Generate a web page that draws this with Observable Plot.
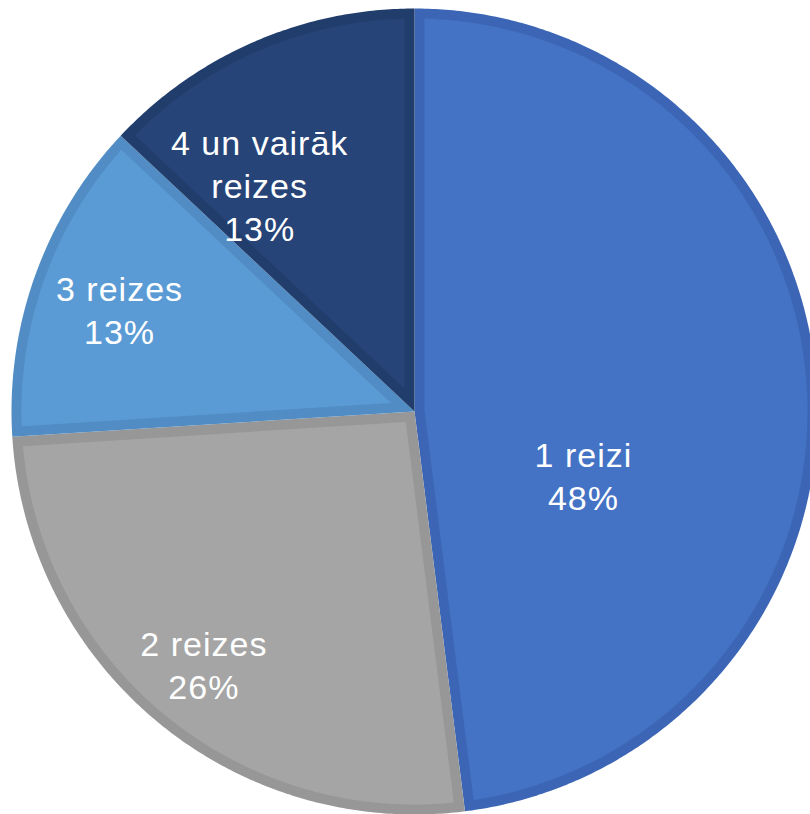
<!DOCTYPE html>
<html>
<head>
<meta charset="utf-8">
<script src="https://cdn.jsdelivr.net/npm/d3@7"></script>
<script src="https://cdn.jsdelivr.net/npm/@observablehq/plot@0.6"></script>
<style>
  html, body { margin: 0; padding: 0; background: #ffffff; }
  #chart svg { display: block; }
  #chart text { letter-spacing: 1px; }
</style>
</head>
<body>
<div id="chart"></div>
<script>
// ---- data ----
const categories = ["1 reizi", "2 reizes", "3 reizes", "4 un vairāk reizes"];
const shares = [48, 26, 13, 13];
const labelLines = [["1 reizi"], ["2 reizes"], ["3 reizes"], ["4 un vairāk", "reizes"]];

// ---- styles ----
const fillColors = ["#4472C4", "#A5A5A5", "#5B9BD5", "#264478"];
const bandColors = ["#3C66B5", "#979797", "#518DC4", "#213D6C"];

// ---- layout ----
const W = 810, H = 814;
const cx = 414, cy = 411, R = 403, inset = 10;
const labelRadius = [0.42, 0.82, 0.77, 0.68];
const labelShift = [{dx: 0, dy: 74}, {dx: 0, dy: -2}, {dx: -3, dy: 2}, {dx: -46, dy: 24}];

const arcs = d3.pie().sort(null).value(d => d)(shares);

function pt(a, r) {
  return {x: cx + r * Math.sin(a), y: cy - r * Math.cos(a)};
}
function arcPoints(a0, a1, r) {
  const n = Math.max(4, Math.ceil((a1 - a0) / (Math.PI / 360)));
  const out = [];
  for (let i = 0; i <= n; i++) out.push(pt(a0 + (a1 - a0) * i / n, r));
  return out;
}
function outerWedge(a0, a1) {
  return [pt(0, 0), ...arcPoints(a0, a1, R), pt(0, 0)];
}
function innerWedge(a0, a1) {
  const theta = a1 - a0;
  const rho = R - inset;
  const apexDist = inset / Math.sin(theta / 2);
  const apex = pt((a0 + a1) / 2, apexDist);
  const da = Math.asin(inset / rho);
  return [apex, ...arcPoints(a0 + da, a1 - da, rho), apex];
}

const marks = [];
arcs.forEach((a, i) => {
  marks.push(Plot.line(outerWedge(a.startAngle, a.endAngle), {
    x: "x", y: "y", fill: bandColors[i], stroke: "none", curve: "linear"
  }));
  marks.push(Plot.line(innerWedge(a.startAngle, a.endAngle), {
    x: "x", y: "y", fill: fillColors[i], stroke: "none", curve: "linear"
  }));
});

const labels = arcs.map((a, i) => {
  const mid = (a.startAngle + a.endAngle) / 2;
  const p = pt(mid, R * labelRadius[i]);
  return {
    x: p.x + labelShift[i].dx,
    y: p.y + labelShift[i].dy,
    text: [...labelLines[i], Math.round(a.value) + "%"].join("\n"),
    category: categories[i]
  };
});

marks.push(Plot.text(labels, {
  x: "x", y: "y", text: "text",
  fill: "white",
  fontSize: 34,
  fontFamily: "Liberation Sans, Arial, sans-serif",
  lineHeight: 1.265,
  textAnchor: "middle",
  lineAnchor: "middle"
}));

const chart = Plot.plot({
  width: W,
  height: H,
  margin: 0,
  x: {domain: [0, W], range: [0, W], axis: null},
  y: {domain: [0, H], range: [0, H], axis: null},
  style: {background: "#ffffff"},
  marks
});
document.getElementById("chart").appendChild(chart);
</script>
</body>
</html>
